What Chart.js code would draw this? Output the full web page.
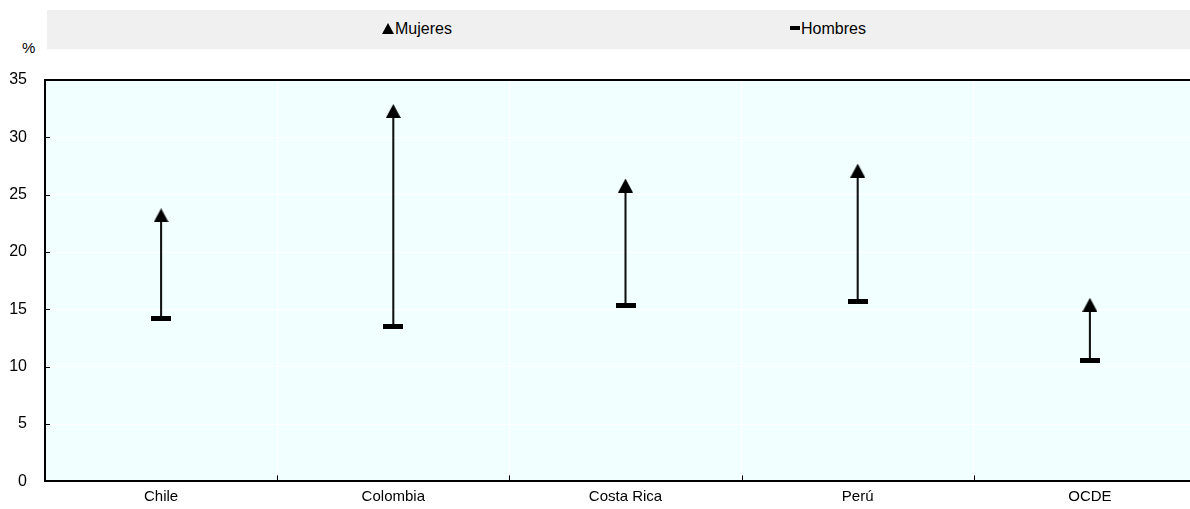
<!DOCTYPE html>
<html>
<head>
<meta charset="utf-8">
<script src="https://cdn.jsdelivr.net/npm/chart.js@4"></script>
<style>
  html, body { margin: 0; padding: 0; background: #fff; overflow: hidden; width: 1190px; height: 509px; }
  #wrap { position: relative; width: 1212px; height: 509px; }
  #legend { position: absolute; left: 47px; top: 10px; width: 1170px; height: 39px; background: #f0f0f0;
    font: 16px 'Liberation Sans', Arial, sans-serif; color: #000; }
  .item { position: absolute; top: 11px; line-height: 16px; }
  .tri { display: inline-block; width: 0; height: 0; border-left: 6px solid transparent; border-right: 6px solid transparent;
    border-bottom: 11px solid #000; margin-right: 1px; vertical-align: 0px; }
  .dash { display: inline-block; width: 10px; height: 4px; background: #000; margin-right: 1px; vertical-align: 4px; }
  #unit { position: absolute; left: 22px; top: 39px; font: 15px 'Liberation Sans', Arial, sans-serif; }
  canvas { position: absolute; left: 0; top: 0; }
</style>
</head>
<body>
<div id="wrap">
  <div id="legend">
    <span class="item" style="left:335px"><span class="tri"></span>Mujeres</span>
    <span class="item" style="left:743px"><span class="dash"></span>Hombres</span>
  </div>
  <div id="unit">%</div>
  <canvas id="chart" width="1212" height="509"></canvas>
</div>
<script>
const categories = ['Chile', 'Colombia', 'Costa Rica', 'Perú', 'OCDE'];
const mujeres = [23.2, 32.3, 25.8, 27.1, 15.4];
const hombres = [14.2, 13.5, 15.3, 15.7, 10.5];
const yTicks = [0, 5, 10, 15, 20, 25, 30, 35];

const FONT = "'Liberation Sans', Arial, sans-serif";

// marker images
function makeTriangle(w, h) {
    const c = document.createElement('canvas');
    c.width = w; c.height = h;
    const g = c.getContext('2d');
    g.fillStyle = '#000';
    g.beginPath();
    g.moveTo(w / 2, 0);
    g.lineTo(w, h);
    g.lineTo(0, h);
    g.closePath();
    g.fill();
    return c;
}
function makeDash(w, h) {
    const c = document.createElement('canvas');
    c.width = w; c.height = h;
    const g = c.getContext('2d');
    g.fillStyle = '#000';
    g.fillRect(0, 0, w, h);
    return c;
}

// background, top border and inside tick marks
const frame = {
    id: 'frame',
    beforeDraw(chart) {
        const { ctx, chartArea: a } = chart;
        ctx.save();
        ctx.fillStyle = '#f2ffff';
        ctx.fillRect(a.left, a.top, a.right - a.left, a.bottom - a.top);
        ctx.restore();
    },
    afterDatasetsDraw(chart) {
        const { ctx, chartArea: a, scales } = chart;
        ctx.save();
        ctx.strokeStyle = '#000';
        ctx.lineWidth = 2;
        ctx.beginPath();
        ctx.moveTo(a.left - 1, a.top);
        ctx.lineTo(a.right, a.top);
        ctx.stroke();
        ctx.lineWidth = 1;
        ctx.beginPath();
        yTicks.forEach(v => {
            if (v === 0 || v === 35) return;
            const y = Math.round(scales.y.getPixelForValue(v)) + 0.5;
            ctx.moveTo(a.left, y);
            ctx.lineTo(a.left + 5, y);
        });
        for (let i = 1; i < categories.length; i++) {
            const x = Math.round((scales.x.getPixelForValue(i - 1) + scales.x.getPixelForValue(i)) / 2) + 0.5;
            ctx.moveTo(x, a.bottom);
            ctx.lineTo(x, a.bottom - 6);
        }
        ctx.stroke();
        ctx.restore();
    }
};

new Chart(document.getElementById('chart'), {
    type: 'bar',
    data: {
        labels: categories,
        datasets: [
            {
                type: 'line',
                label: 'Mujeres',
                data: mujeres,
                showLine: false,
                pointStyle: makeTriangle(15, 14),
                order: 0
            },
            {
                type: 'line',
                label: 'Hombres',
                data: hombres,
                showLine: false,
                pointStyle: makeDash(20, 5),
                order: 1
            },
            {
                type: 'bar',
                label: 'range',
                data: hombres.map((h, i) => [h, mujeres[i]]),
                backgroundColor: '#111',
                barThickness: 1.4,
                order: 2
            }
        ]
    },
    options: {
        responsive: false,
        animation: false,
        layout: { padding: { top: 80, right: 6, left: 0, bottom: 0 } },
        plugins: { legend: { display: false }, tooltip: { enabled: false } },
        scales: {
            x: {
                offset: true,
                grid: { offset: true, color: '#ffffff', lineWidth: 1, drawTicks: false },
                border: { color: '#000', width: 2 },
                ticks: { color: '#000', padding: 6, font: { family: FONT, size: 15 } },
                afterFit(scale) { scale.height = 25; }
            },
            y: {
                min: 0,
                max: 35,
                afterBuildTicks(scale) { scale.ticks = yTicks.map(v => ({ value: v })); },
                grid: { color: '#ffffff', lineWidth: 1, drawTicks: false },
                border: { color: '#000', width: 2 },
                ticks: { color: '#000', padding: 18, font: { family: FONT, size: 16 } },
                afterFit(scale) { scale.width = 45; }
            }
        }
    },
    plugins: [frame]
});
</script>
</body>
</html>
